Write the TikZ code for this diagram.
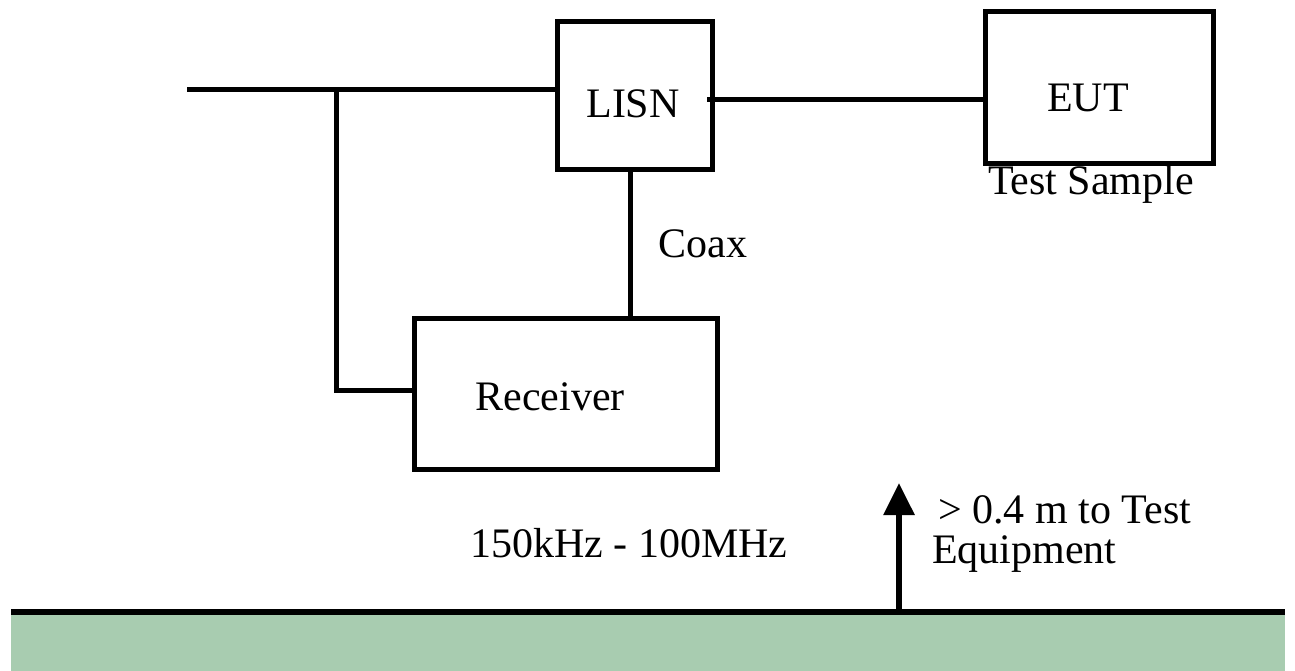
\documentclass[tikz,border=0pt]{standalone}
\usepackage{fontspec}
\setmainfont{Liberation Serif}
\usetikzlibrary{arrows.meta}
\definecolor{groundgreen}{RGB}{168,204,176}
\tikzset{
  blk/.style={draw=black, line width=5pt, fill=none, inner sep=0pt, minimum width=#1},
  wire/.style={line width=5pt, line cap=rect},
  txt/.style={font=\fontsize{42}{42}\selectfont, inner sep=0pt, anchor=base},
}
\begin{document}
\begin{tikzpicture}[x=1pt,y=1pt]
\useasboundingbox (0,0) rectangle (1295,-671);
% ground
\fill[groundgreen] (11,-612) rectangle (1285,-671);
\draw[line width=6pt] (11,-612) -- (1285,-612);
% boxes
\node[blk=155pt, minimum height=148pt] (lisn) at (634.5,-96) {};
\node[blk=228pt, minimum height=152pt] (eut) at (1099,-88) {};
\node[blk=303pt, minimum height=151pt] (rx) at (565.5,-393.5) {};
% labels
\node[txt] (lisnT) at (633,-118) {LISN};
\node[txt] (eutT) at (1088,-112) {EUT};
\node[txt] (rxT) at (550,-410) {Receiver};
\node[txt] (sample) at (1091,-195) {Test Sample};
\node[txt] (coax) at (703,-257) {Coax};
\node[txt, anchor=base west] (freq) at (470,-557) {150kHz - 100MHz};
\node[txt, anchor=base west] (dist1) at (938,-523) {> 0.4 m to Test};
\node[txt, anchor=base west] (dist2) at (932,-563) {Equipment};
% connectors
\coordinate (mains) at (187,-90);
\coordinate (junc) at (336,-90);
\coordinate (lout) at (707,-100);
\coordinate (coaxx) at (630,-170);
\coordinate (gnd) at (899,-609);
\coordinate (tip) at (899,-483);
\draw[wire, line cap=butt] (mains) -- (lisn.west |- mains);
\draw[wire, line cap=butt] (lout) -- (eut.west |- lout);
\draw[wire, line cap=butt] (junc) |- ([yshift=3.5pt]rx.west);
\draw[wire, line cap=butt] (coaxx) -- (coaxx |- rx.north);
\draw[line width=6pt, -{Triangle[width=30pt,length=32pt]}] (gnd) -- (tip);
\end{tikzpicture}
\end{document}
